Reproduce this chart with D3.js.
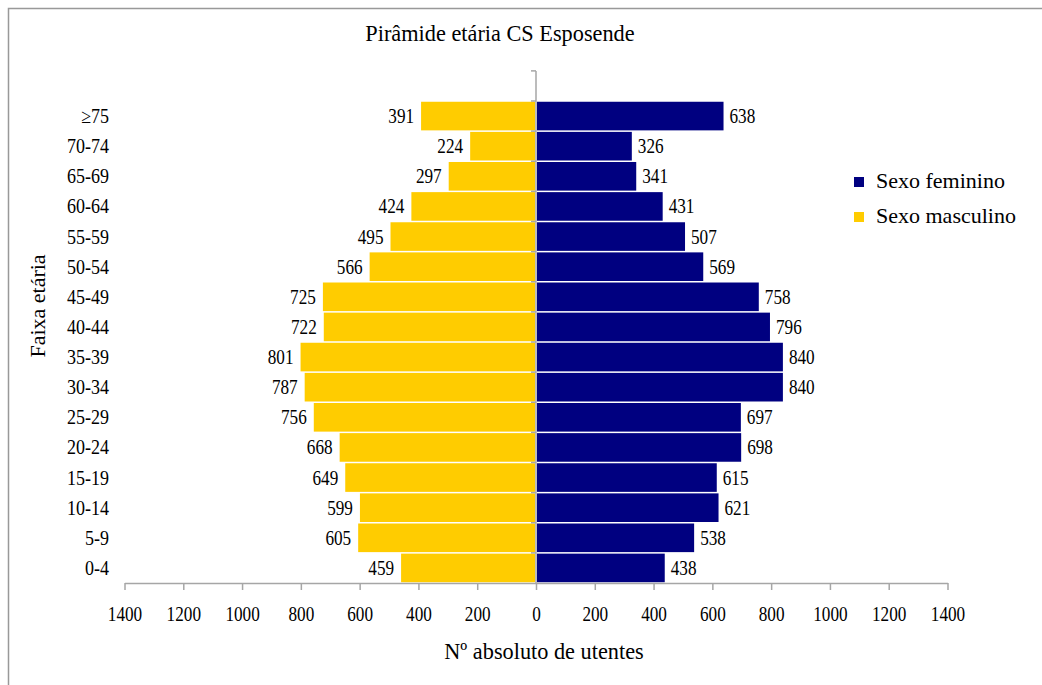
<!DOCTYPE html>
<html>
<head>
<meta charset="utf-8">
<script src="https://cdn.jsdelivr.net/npm/d3@7"></script>
<style>
  body { margin: 0; background: #fff; }
</style>
</head>
<body>
<script>
// Data (top to bottom, as in the chart)
const ageGroups = ["≥75", "70-74", "65-69", "60-64", "55-59", "50-54", "45-49", "40-44",
                   "35-39", "30-34", "25-29", "20-24", "15-19", "10-14", "5-9", "0-4"];
const male   = [391, 224, 297, 424, 495, 566, 725, 722, 801, 787, 756, 668, 649, 599, 605, 459];
const female = [638, 326, 341, 431, 507, 569, 758, 796, 840, 840, 697, 698, 615, 621, 538, 438];
const xTicks = [-1400, -1200, -1000, -800, -600, -400, -200, 0, 200, 400, 600, 800, 1000, 1200, 1400];
const seriesNames = ["Sexo feminino", "Sexo masculino"];

const width = 1042, height = 685;
const colors = { female: "#000080", male: "#FFCC00" };
const axisGray = "#a6a6a6";
const FONT = "'Liberation Serif', 'Times New Roman', serif";

const svg = d3.select("body").append("svg")
    .attr("width", width)
    .attr("height", height);

// outer frame
svg.append("rect")
    .attr("x", 8.5).attr("y", 8.5)
    .attr("width", 1040).attr("height", 690)
    .attr("fill", "none")
    .attr("stroke", "#999")
    .attr("stroke-width", 1.5);

// scales
const x = d3.scaleLinear()
    .domain([-1400, 1400])
    .range([124.5, 947.5]);

const y = d3.scaleBand()
    .domain(ageGroups)
    .range([101, 583])
    .paddingInner(0.05)
    .paddingOuter(0.025);

// helper for slightly condensed text
function addText(g, tx, ty, str, size, anchor, sx) {
  return g.append("text")
      .attr("transform", `translate(${tx},${ty}) scale(${sx},1)`)
      .attr("text-anchor", anchor)
      .style("font-family", FONT)
      .style("font-size", size + "px")
      .attr("fill", "#000")
      .text(str);
}

// bars
const rows = ageGroups.map((g, i) => ({ group: g, m: male[i], f: female[i] }));

svg.selectAll(".bar-m")
    .data(rows)
    .enter().append("rect")
    .attr("class", "bar-m")
    .attr("x", d => x(-d.m))
    .attr("y", d => y(d.group))
    .attr("width", d => x(0) - 1 - x(-d.m))
    .attr("height", y.bandwidth())
    .attr("fill", colors.male);

svg.selectAll(".bar-f")
    .data(rows)
    .enter().append("rect")
    .attr("class", "bar-f")
    .attr("x", x(0) + 1)
    .attr("y", d => y(d.group))
    .attr("width", d => x(d.f) - x(0) - 1)
    .attr("height", y.bandwidth())
    .attr("fill", colors.female);

// value labels
rows.forEach(d => {
  const cy = y(d.group) + y.bandwidth() / 2 + 7;
  addText(svg, x(-d.m) - 7, cy, d.m, 20, "end", 0.86);
  addText(svg, x(d.f) + 6, cy, d.f, 20, "start", 0.86);
});

// x axis
const xAxis = svg.append("g")
    .attr("transform", `translate(0,583)`)
    .call(d3.axisBottom(x).tickValues(xTicks).tickSize(7).tickSizeOuter(0)
        .tickFormat(d => Math.abs(d)));

xAxis.select(".domain").attr("stroke", axisGray).attr("stroke-width", 1.5);
xAxis.selectAll(".tick line").attr("stroke", axisGray).attr("stroke-width", 1.5);
xAxis.selectAll(".tick text")
    .attr("y", 38).attr("dy", 0)
    .attr("transform", "scale(0.86,1)")
    .style("font-size", "20px")
    .style("font-family", FONT)
    .attr("fill", "#000");

// y axis (vertical line at zero + boundary ticks)
const step = y.step();
const yTop = y.range()[0] - step;
svg.append("line")
    .attr("x1", x(0)).attr("x2", x(0))
    .attr("y1", yTop).attr("y2", y.range()[1])
    .attr("stroke", axisGray).attr("stroke-width", 1.5);

const bounds = d3.range(ageGroups.length + 1).map(i => yTop + i * step);
svg.selectAll(".ytick")
    .data(bounds)
    .enter().append("line")
    .attr("class", "ytick")
    .attr("x1", x(0) - 5).attr("x2", x(0))
    .attr("y1", d => d).attr("y2", d => d)
    .attr("stroke", axisGray).attr("stroke-width", 1.5);

// category labels
ageGroups.forEach(g => {
  addText(svg, 109, y(g) + y.bandwidth() / 2 + 7, g, 20, "end", 0.9);
});

// titles
addText(svg, 500, 41, "Pirâmide etária CS Esposende", 23, "middle", 0.97);
addText(svg, 544, 659, "Nº absoluto de utentes", 23, "middle", 0.97);

svg.append("text")
    .attr("transform", "translate(45,306) rotate(-90)")
    .attr("text-anchor", "middle")
    .style("font-family", FONT)
    .style("font-size", "22px")
    .text("Faixa etária");

// legend
const legend = svg.selectAll(".legend")
    .data(seriesNames)
    .enter().append("g")
    .attr("class", "legend")
    .attr("transform", (d, i) => `translate(854,${177 + i * 35})`);

legend.append("rect")
    .attr("width", 10).attr("height", 10)
    .attr("fill", (d, i) => i === 0 ? colors.female : colors.male);

legend.append("text")
    .attr("x", 22).attr("y", 11)
    .style("font-family", FONT)
    .style("font-size", "22px")
    .text(d => d);
</script>
</body>
</html>
